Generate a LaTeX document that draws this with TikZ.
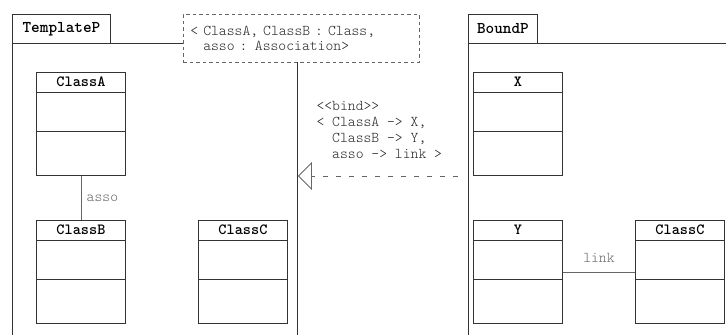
\documentclass[tikz,border=0pt]{standalone}
\usepackage{tikz}
\usetikzlibrary{positioning, arrows.meta, calc}

\definecolor{linegray}{gray}{0.2}
\definecolor{textgray}{gray}{0.15}
\definecolor{assogray}{gray}{0.4}

\begin{document}
\begin{tikzpicture}[
    x=1bp, y=-1bp,
    >=stealth,
    package/.style={
      draw=linegray,
      line width=0.9bp,
      anchor=north west,
      inner sep=0pt
    },
    tab/.style={
      package,
      minimum width=98bp,
      minimum height=29bp,
      font=\ttfamily\bfseries\fontsize{16.5}{18}\selectfont
    },
    class/.style={
      draw=linegray,
      line width=0.9bp,
      anchor=north west,
      inner sep=0pt,
      minimum width=89bp,
      minimum height=103bp
    },
    classname/.style={
      anchor=north,
      inner sep=0pt,
      minimum height=20bp,
      font=\ttfamily\bfseries\fontsize{15.6}{17}\selectfont
    },
    note/.style={
      text=textgray,
      font=\ttfamily\fontseries{l}\fontsize{15}{15}\selectfont
    },
    assoc/.style={
      draw=assogray,
      line width=0.9bp
    }
  ]

  \useasboundingbox (0,0) rectangle (726,334);
  \clip (0,0) rectangle (726,334);

  % Paquetes
  \node[package, minimum width=285bp, minimum height=320bp] (templateP) at (12,43) {};
  \node[tab] (templateP-tab) at (12,14) {TemplateP};
  \node[note, draw=assogray, line width=0.9bp, dash pattern=on 3.5bp off 3bp,
        fill=white, anchor=north west, minimum height=48bp, text width=222bp,
        inner xsep=7bp, inner ysep=0pt, align=left] (params) at (183,14)
    {< ClassA, ClassB : Class,\\\hphantom{<~}asso : Association>};

  \node[package, minimum width=300bp, minimum height=320bp] (boundP) at (468,43) {};
  \node[tab, minimum width=69bp] (boundP-tab) at (468,14) {BoundP};

  % Clases
  \node[class] (classA) at (36,72) {};
  \node[class] (classB) at (36,220) {};
  \node[class] (classC) at (198,220) {};
  \node[class] (X) at (473,72) {};
  \node[class] (Y) at (473,220) {};
  \node[class] (classC2) at (635,220) {};

  \foreach \c/\t in {classA/ClassA, classB/ClassB, classC/ClassC,
                     X/X, Y/Y, classC2/ClassC} {
    \node[classname] (\c-name) at (\c.north) {\t};
    \draw[linegray, line width=0.9bp]
      ($(\c.north west)+(0,20)$) -- ($(\c.north east)+(0,20)$)
      ($(\c.north west)+(0,59)$) -- ($(\c.north east)+(0,59)$);
  }

  % Asociaciones
  \draw[assoc] (classA) -- node[note, text=assogray, right=2bp] (asso) {asso} (classB);
  \draw[assoc] (Y) -- node[note, text=assogray, above=6bp] (link) {link} (classC2);

  % Binding
  \coordinate (bindy) at (0,176);
  \draw[assoc, dash pattern=on 5bp off 8bp, shorten <=10bp,
        -{Triangle[open, length=14bp, width=28bp]}]
    (boundP.west |- bindy) -- (templateP.east |- bindy);
  \node[note, align=left, anchor=west, font=\ttfamily\fontseries{l}\fontsize{15}{16}\selectfont]
    (bind) at (313,130)
    {<<bind>>\\< ClassA -> X,\\\hphantom{<~}ClassB -> Y,\\\hphantom{<~}asso -> link >};

\end{tikzpicture}
\end{document}
